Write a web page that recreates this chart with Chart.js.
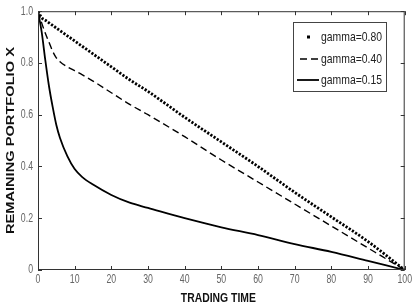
<!DOCTYPE html>
<html>
<head>
<meta charset="utf-8">
<script src="https://cdn.jsdelivr.net/npm/chart.js@4.4.1/dist/chart.umd.min.js"></script>
<style>
  html, body { margin: 0; padding: 0; background: #fff; }
  #wrap { width: 420px; height: 304px; }
</style>
</head>
<body>
<div id="wrap"><canvas id="chart" width="420" height="304"></canvas></div>
<script>
// Data
const tradingTime = [0, 1, 2, 3, 4, 5, 6, 8, 10, 12, 15, 20, 25, 30, 40, 50, 60, 70, 80, 90, 100];
const gamma080 = [1, 0.975, 0.965, 0.955, 0.945, 0.935, 0.925, 0.905, 0.885, 0.865, 0.835, 0.785, 0.735, 0.69, 0.59, 0.495, 0.40, 0.30, 0.205, 0.11, 0];
const gamma040 = [1, 0.955, 0.915, 0.88, 0.845, 0.82, 0.805, 0.785, 0.77, 0.755, 0.73, 0.685, 0.64, 0.60, 0.515, 0.425, 0.34, 0.255, 0.17, 0.085, 0];
const gamma015 = [1, 0.92, 0.81, 0.71, 0.63, 0.56, 0.51, 0.44, 0.39, 0.36, 0.33, 0.29, 0.26, 0.24, 0.20, 0.165, 0.135, 0.10, 0.07, 0.035, 0];
const seriesNames = ['gamma=0.80', 'gamma=0.40', 'gamma=0.15'];
const xTickStep = 10;
const yTickStep = 0.2;

const toPoints = (vals) => vals.map((v, i) => ({ x: tradingTime[i], y: v }));

const narrow = '"Liberation Sans Narrow", "DejaVu Sans Condensed", "Liberation Sans", Arial, sans-serif';

// draw text squeezed/stretched horizontally to a given scale
function scaledText(ctx, text, x, y, sx, align) {
  ctx.save();
  ctx.translate(x, y);
  ctx.scale(sx, 1);
  ctx.textAlign = align || 'left';
  ctx.fillText(text, 0, 0);
  ctx.restore();
}

// MATLAB-like box, inward ticks, legend and axis titles
const matlabFrame = {
  id: 'matlabFrame',
  afterDraw(chart) {
    const { ctx, chartArea: a, scales: { x, y } } = chart;
    ctx.save();
    ctx.strokeStyle = '#333';
    ctx.lineWidth = 1;
    ctx.strokeRect(a.left + 0.5, a.top + 0.5, a.right - a.left - 1, a.bottom - a.top - 1);

    const len = 4;
    ctx.beginPath();
    x.ticks.forEach(t => {
      const px = Math.round(x.getPixelForValue(t.value)) + 0.5;
      ctx.moveTo(px, a.bottom); ctx.lineTo(px, a.bottom - len);
      ctx.moveTo(px, a.top); ctx.lineTo(px, a.top + len);
    });
    y.ticks.forEach(t => {
      const py = Math.round(y.getPixelForValue(t.value)) + 0.5;
      ctx.moveTo(a.left, py); ctx.lineTo(a.left + len, py);
      ctx.moveTo(a.right, py); ctx.lineTo(a.right - len, py);
    });
    ctx.stroke();

    // tick labels, tall and narrow like the source
    ctx.fillStyle = '#666';
    ctx.font = '12.5px "Liberation Sans", Arial, sans-serif';
    ctx.textBaseline = 'middle';
    x.ticks.forEach(t => {
      scaledText(ctx, t.label, x.getPixelForValue(t.value), 280, 0.7, 'center');
    });
    y.ticks.forEach(t => {
      scaledText(ctx, t.label, a.left - 5, y.getPixelForValue(t.value), 0.7, 'right');
    });

    // legend box
    const lx = 293, ly = 22, lw = 93, lh = 69;
    ctx.fillStyle = '#fff';
    ctx.fillRect(lx, ly, lw, lh);
    ctx.strokeStyle = '#444';
    ctx.strokeRect(lx + 0.5, ly + 0.5, lw, lh);
    const rows = [37, 59, 80];
    chart.data.datasets.forEach((ds, i) => {
      const ry = rows[i];
      ctx.strokeStyle = ds.borderColor;
      ctx.fillStyle = ds.borderColor;
      if (i === 0) {
        ctx.fillRect(307, ry - 1.5, 3, 3);
      } else {
        ctx.lineWidth = ds.borderWidth;
        ctx.setLineDash(ds.borderDash || []);
        ctx.beginPath();
        ctx.moveTo(i === 1 ? 300 : 297, ry);
        ctx.lineTo(319, ry);
        ctx.stroke();
        ctx.setLineDash([]);
      }
      ctx.fillStyle = '#222';
      ctx.font = '13px "Liberation Sans", Arial, sans-serif';
      ctx.textBaseline = 'middle';
      scaledText(ctx, ds.label, 321, ry, 0.8, 'left');
    });

    // y axis title
    ctx.fillStyle = '#111';
    ctx.font = 'bold 10px "Liberation Sans", Arial, sans-serif';
    ctx.textBaseline = 'middle';
    const label = 'REMAINING PORTFOLIO X';
    const w = ctx.measureText(label).width;
    ctx.translate(11, (a.top + a.bottom) / 2);
    ctx.rotate(-Math.PI / 2);
    ctx.scale(187 / w, 1);
    ctx.textAlign = 'center';
    ctx.fillText(label, 0, 0);
    ctx.restore();

    // x axis title
    ctx.save();
    ctx.fillStyle = '#111';
    ctx.font = 'bold 13px "Liberation Sans", Arial, sans-serif';
    ctx.textBaseline = 'middle';
    const xl = 'TRADING TIME';
    const xw = ctx.measureText(xl).width;
    scaledText(ctx, xl, (a.left + a.right) / 2 - 3, 298, 75 / xw, 'center');
    ctx.restore();
  }
};

const chart = new Chart(document.getElementById('chart'), {
  type: 'line',
  data: {
    datasets: [
      {
        label: seriesNames[0],
        data: toPoints(gamma080),
        borderColor: '#000',
        borderWidth: 2.8,
        borderDash: [2.2, 1.6],
        pointRadius: 0,
        cubicInterpolationMode: 'monotone'
      },
      {
        label: seriesNames[1],
        data: toPoints(gamma040),
        borderColor: '#000',
        borderWidth: 1.4,
        borderDash: [7, 4],
        pointRadius: 0,
        cubicInterpolationMode: 'monotone'
      },
      {
        label: seriesNames[2],
        data: toPoints(gamma015),
        borderColor: '#000',
        borderWidth: 1.8,
        pointRadius: 0,
        cubicInterpolationMode: 'monotone'
      }
    ]
  },
  options: {
    responsive: false,
    animation: false,
    devicePixelRatio: 1,
    layout: { padding: { top: 6, right: 8, left: 0, bottom: 0 } },
    plugins: {
      legend: { display: false },
      tooltip: { enabled: false }
    },
    scales: {
      x: {
        type: 'linear',
        min: 0,
        max: 100,
        grid: { display: false, drawTicks: false },
        border: { display: false },
        ticks: {
          stepSize: xTickStep,
          padding: 5,
          color: 'rgba(0,0,0,0)',
          maxRotation: 0,
          font: { family: narrow, size: 12 }
        },
        afterFit: (scale) => { scale.height = 34; }
      },
      y: {
        min: 0,
        max: 1,
        grid: { display: false, drawTicks: false },
        border: { display: false },
        ticks: {
          stepSize: yTickStep,
          padding: 4,
          color: 'rgba(0,0,0,0)',
          font: { family: narrow, size: 12 }
        },
        afterFit: (scale) => { scale.width = 38; }
      }
    }
  },
  plugins: [matlabFrame]
});
</script>
</body>
</html>
